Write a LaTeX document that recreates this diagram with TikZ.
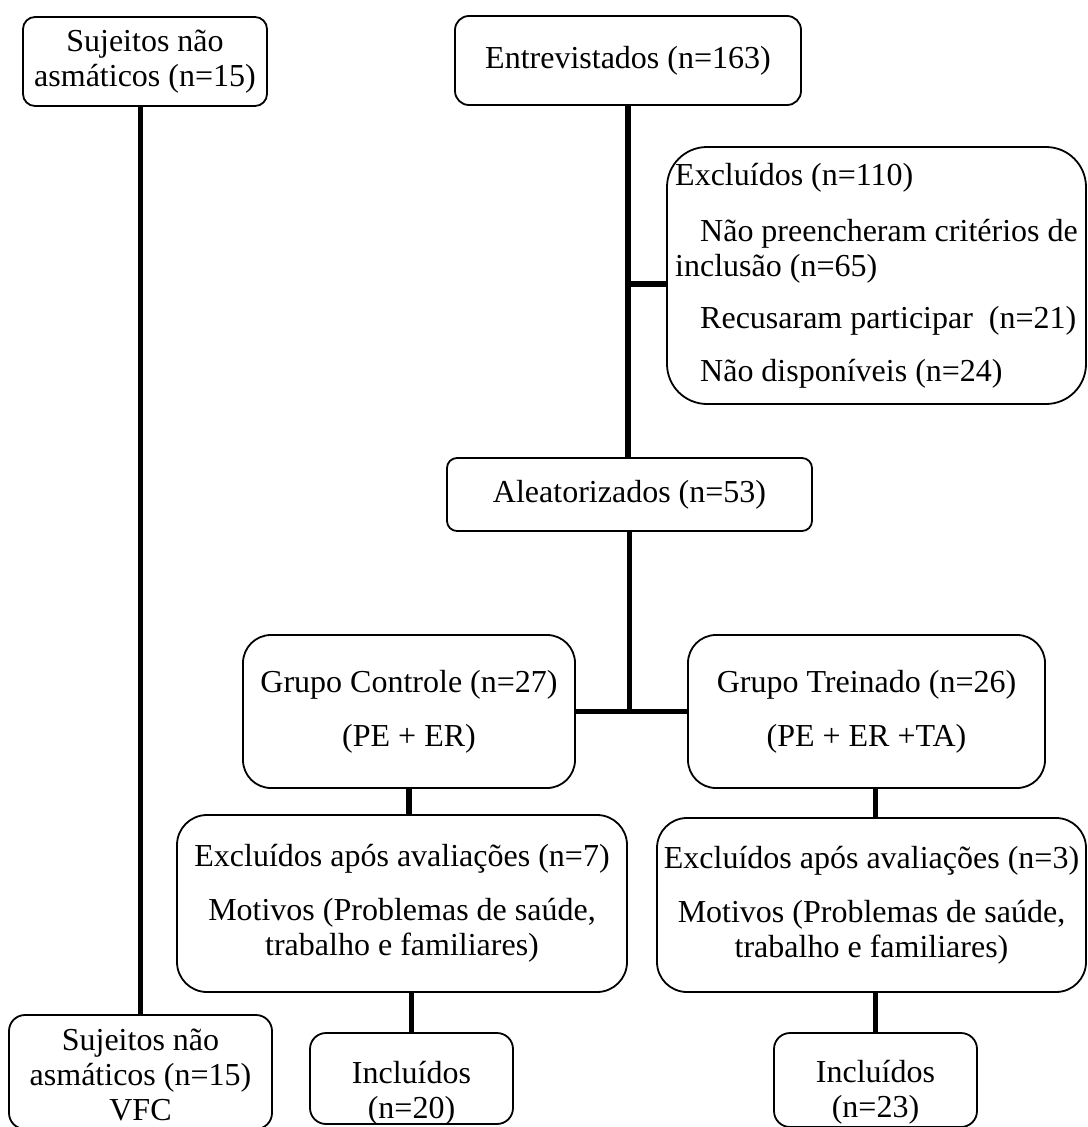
\documentclass[tikz,border=0pt]{standalone}
\usepackage{fontspec}
\setmainfont{Liberation Serif}
\usetikzlibrary{calc}
\tikzset{
  caixa/.style={rectangle, draw=black, line width=1.8pt, align=center,
    inner sep=3pt, font=\fontsize{32}{35}\selectfont},
  rotulo/.style={align=center, font=\fontsize{32}{35}\selectfont},
  linha/.style={line width=5.5pt, draw=black},
}
\begin{document}
\begin{tikzpicture}[x=1pt, y=-1pt]
  \useasboundingbox (0,0) rectangle (1087,1127);
  % coluna da esquerda
  \node[caixa, rounded corners=12pt, minimum width=244pt, minimum height=89pt] (suj) at (145,61.5) {Sujeitos não\\asmáticos (n=15)};
  \node[caixa, rounded corners=16pt, minimum width=263pt, minimum height=114pt,
    label={[rotulo, yshift=-3pt]center:{Sujeitos não\\asmáticos (n=15)\\VFC}}] (sujvfc) at (140.5,1072) {};
  % fluxo principal
  \node[caixa, rounded corners=14pt, minimum width=346pt, minimum height=89pt] (entr) at (628,60.5) {Entrevistados (n=163)};
  \node[caixa, rounded corners=40pt, minimum width=419pt, minimum height=257pt, align=left] (excl) at (876.5,275.5)
    {Excluídos (n=110)\\[21pt]\hspace*{25pt}Não preencheram critérios de\\inclusão (n=65)\\[17pt]\hspace*{25pt}Recusaram participar~~(n=21)\\[18pt]\hspace*{25pt}Não disponíveis (n=24)};
  \node[caixa, rounded corners=10pt, minimum width=365pt, minimum height=73pt] (alea) at (629.5,494.5) {Aleatorizados (n=53)};
  % grupos
  \node[caixa, rounded corners=28pt, minimum width=332pt, minimum height=153pt] (gc) at (409,711.5) {Grupo Controle (n=27)\\[19pt](PE + ER)};
  \node[caixa, rounded corners=28pt, minimum width=357pt, minimum height=153pt] (gt) at (866.5,711.5) {Grupo Treinado (n=26)\\[19pt](PE + ER +TA)};
  \node[caixa, rounded corners=30pt, minimum width=450pt, minimum height=177pt] (exca) at (402,903.5) {Excluídos após avaliações (n=7)\\[19pt]Motivos (Problemas de saúde,\\trabalho e familiares)};
  \node[caixa, rounded corners=30pt, minimum width=429pt, minimum height=174pt] (excb) at (871.5,905) {Excluídos após avaliações (n=3)\\[19pt]Motivos (Problemas de saúde,\\trabalho e familiares)};
  \node[caixa, rounded corners=16pt, minimum width=203pt, minimum height=91pt,
    label={[rotulo, yshift=-15pt]center:{Incluídos\\(n=20)}}] (incla) at (411.5,1078.5) {};
  \node[caixa, rounded corners=16pt, minimum width=203pt, minimum height=94pt,
    label={[rotulo, yshift=-12.5pt]center:{Incluídos\\(n=23)}}] (inclb) at (875.5,1080) {};
  % ligacoes
  \draw[linha, line width=4.5pt] (sujvfc.north |- suj.south) -- (sujvfc.north);
  \draw[linha] (entr.south) -- (entr.south |- alea.north);
  \draw[linha] ($(entr.south |- excl.west)+(0,8.5)$) -- ($(excl.west)+(0,8.5)$);
  \draw[linha] (alea.south) -- (alea.south |- gc.east);
  \draw[linha] (gc.east) -- (gt.west);
  \draw[linha] (gc.south) -- (gc.south |- exca.north);
  \draw[linha] (exca.south -| incla.north) -- (incla.north);
  \draw[linha] (gt.south -| inclb.north) -- (excb.north -| inclb.north);
  \draw[linha] (excb.south -| inclb.north) -- (inclb.north);
\end{tikzpicture}
\end{document}
